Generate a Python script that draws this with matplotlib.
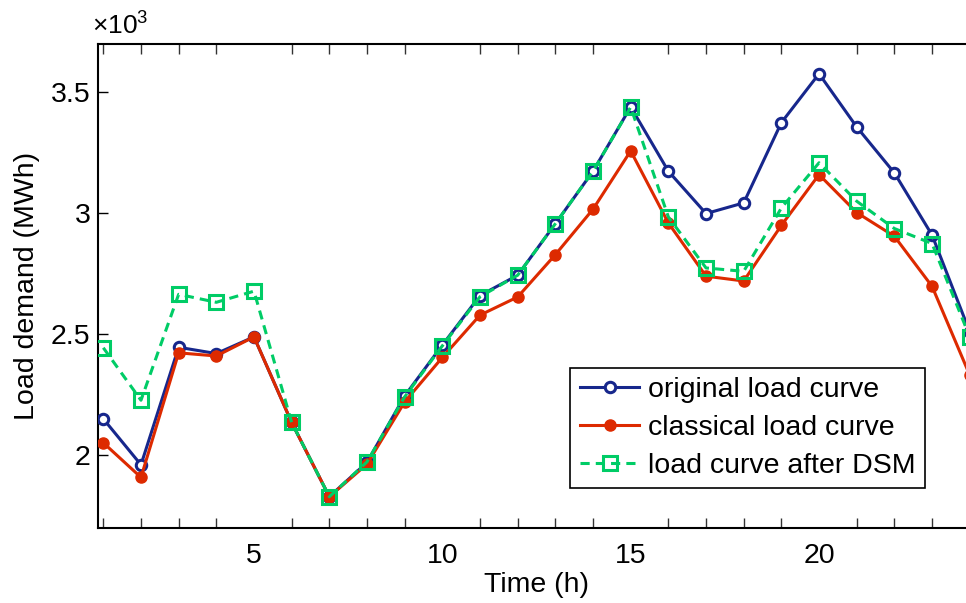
import matplotlib
matplotlib.use("Agg")
import matplotlib.pyplot as plt
from matplotlib.ticker import FixedLocator, FuncFormatter

plt.rcParams['font.family'] = ['Liberation Sans', 'DejaVu Sans']
plt.rcParams['mathtext.default'] = 'regular'

hours = list(range(1, 25))
original = [2150, 1960, 2446, 2420, 2489, 2135, 1828, 1970, 2245, 2455, 2660, 2744,
            2957, 3174, 3440, 3174, 2999, 3043, 3375, 3577, 3357, 3167, 2910, 2510]
classical = [2051, 1908, 2423, 2410, 2489, 2135, 1828, 1963, 2220, 2404, 2579, 2654,
             2829, 3017, 3258, 2960, 2740, 2720, 2950, 3160, 3003, 2905, 2698, 2331]
after_dsm = [2444, 2227, 2665, 2632, 2678, 2135, 1828, 1972, 2241, 2452, 2655, 2744,
             2957, 3174, 3439, 2985, 2774, 2760, 3022, 3209, 3050, 2937, 2875, 2489]
labels = ['original load curve', 'classical load curve', 'load curve after DSM']
xticks_major = [5, 10, 15, 20]
yticks = [2000, 2500, 3000, 3500]

FS = 20.5

fig = plt.figure(figsize=(9.66, 6.03), dpi=100)
ax = fig.add_axes([0.1011, 0.1249, 0.9086, 0.8021])

ax.plot(hours, original, color='#17278c', lw=2.2, marker='o', ms=7.5,
        mfc='white', mec='#17278c', mew=2.2, label=labels[0], zorder=3)
ax.plot(hours, classical, color='#dd2a00', lw=2.2, marker='o', ms=8,
        mfc='#dd2a00', mec='#dd2a00', label=labels[1], zorder=4)
ax.plot(hours, after_dsm, color='#00cc66', lw=2.2, ls=(0, (3, 2)), marker='s', ms=9.5,
        mfc='none', mec='#00cc66', mew=2.2, label=labels[2], zorder=5)

ax.set_xlim(0.85, 24.15)
ax.set_ylim(1700, 3700)
ax.xaxis.set_major_locator(FixedLocator(xticks_major))
ax.xaxis.set_minor_locator(FixedLocator(hours))
ax.yaxis.set_major_locator(FixedLocator(yticks))
ax.yaxis.set_major_formatter(FuncFormatter(lambda v, p: ('%g' % (v / 1000))))
ax.tick_params(axis='x', which='major', direction='in', length=0, labelsize=FS, pad=11,
               top=False)
ax.tick_params(axis='x', which='minor', direction='in', length=7, width=1, top=True,
               bottom=True, color='#333333')
ax.tick_params(axis='y', which='major', direction='in', length=7, width=1, labelsize=FS,
               pad=5, right=False)
for s in ax.spines.values():
    s.set_linewidth(1.5)

ax.set_xlabel('Time (h)', fontsize=FS, labelpad=2)
ax.set_ylabel('Load demand (MWh)', fontsize=FS, labelpad=8)

fig.text(0.095, 0.935, r'$\times10^{3}$', fontsize=19, ha='left', va='bottom')

leg = ax.legend(loc='lower right', bbox_to_anchor=(0.9576, 0.1902),
                bbox_transform=fig.transFigure, borderaxespad=0, fontsize=FS,
                fancybox=False, framealpha=1, edgecolor='black', handlelength=2.1,
                handletextpad=0.3, labelspacing=0.42, borderpad=0.33)
leg.get_frame().set_linewidth(1.2)

fig.savefig('out.png', dpi=100)
